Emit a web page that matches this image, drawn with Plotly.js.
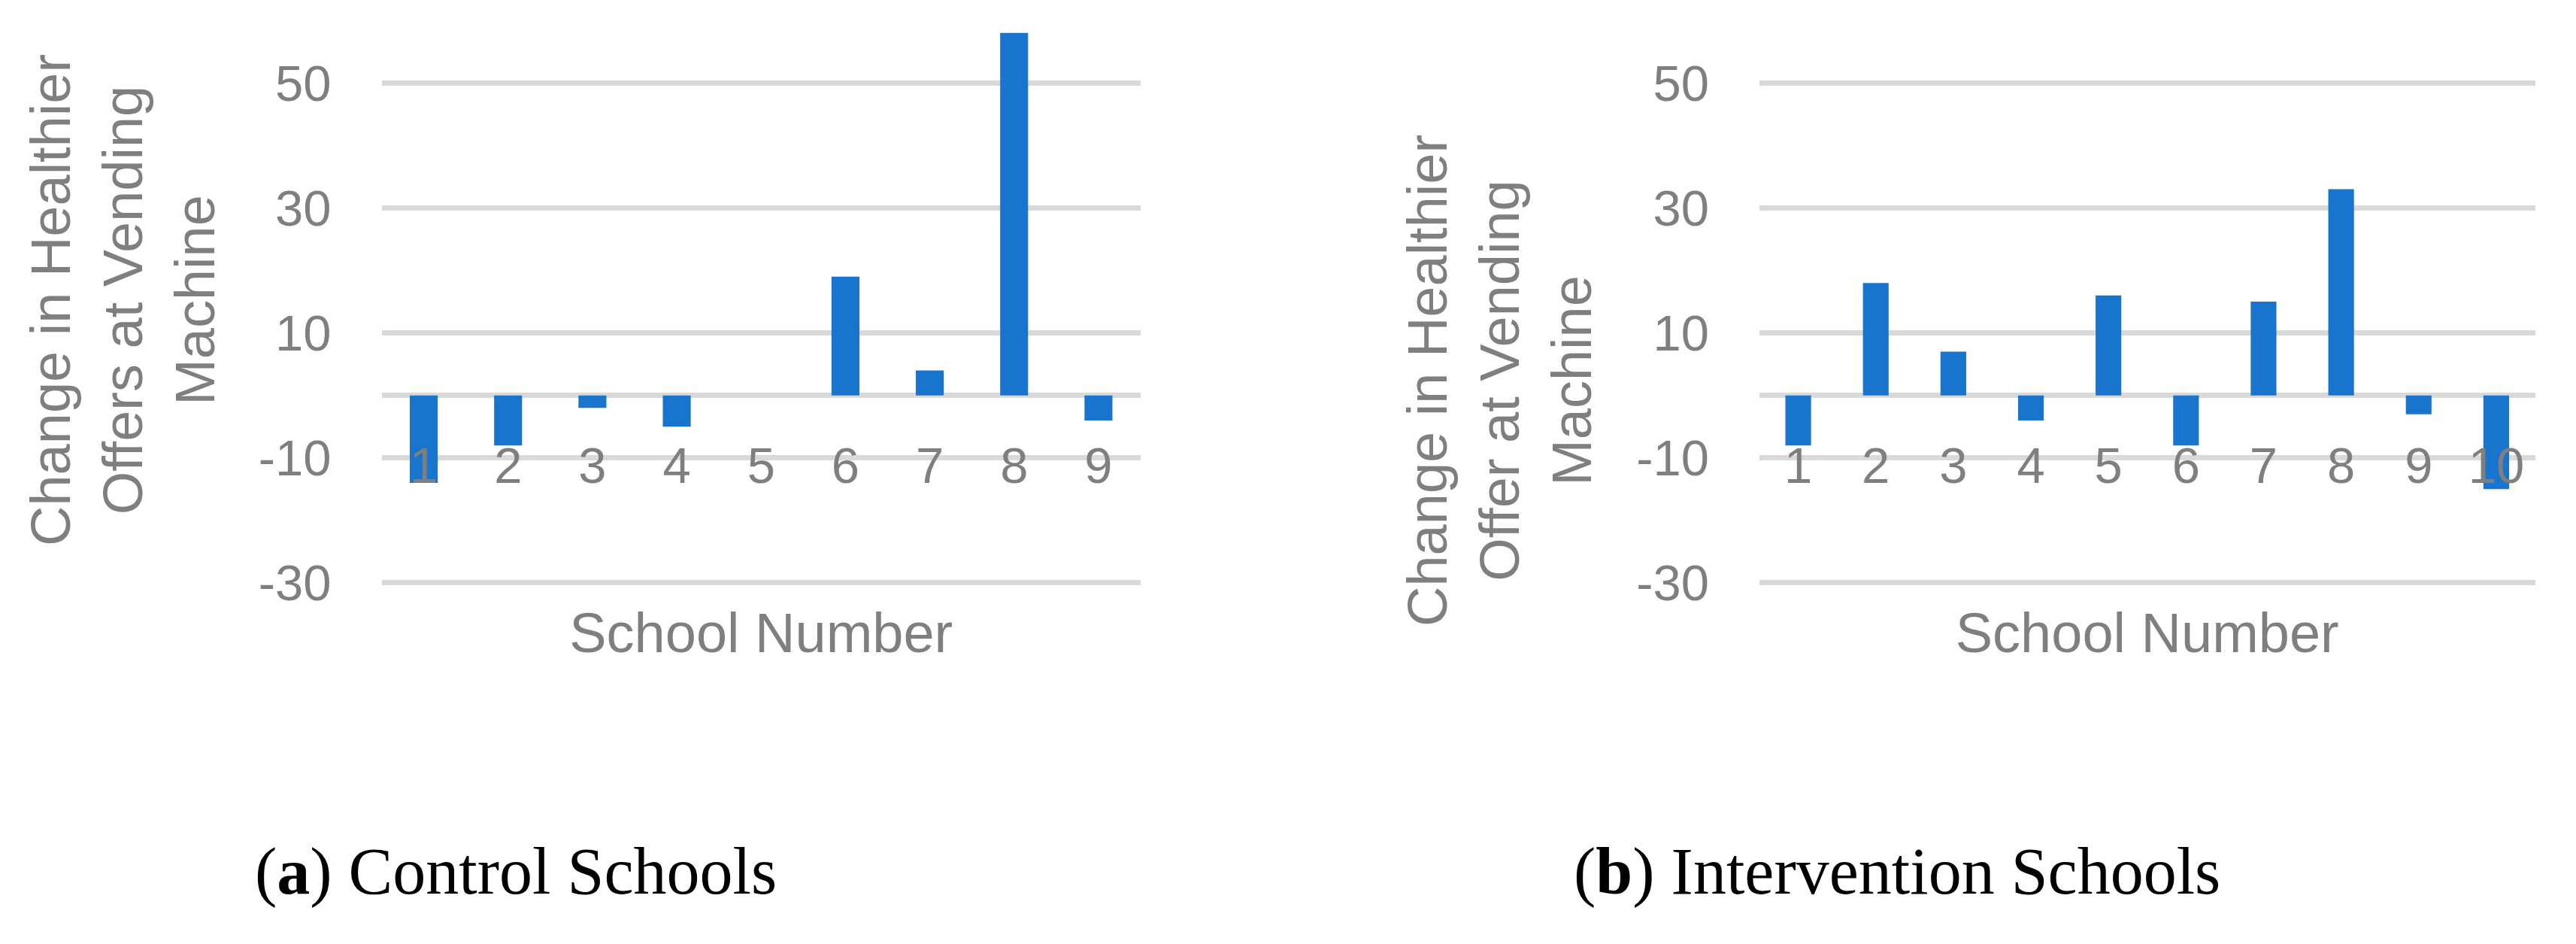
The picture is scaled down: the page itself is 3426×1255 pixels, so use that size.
<!DOCTYPE html>
<html>
<head>
<meta charset="utf-8">
<script src="https://cdn.plot.ly/plotly-3.0.1.min.js"></script>
<style>
  html, body { margin: 0; padding: 0; background: #ffffff; }
  #chart { width: 3426px; height: 1255px; }
</style>
</head>
<body>
<div id="chart"></div>
<script>
// ---- Data ----
const schoolsControl = ['1', '2', '3', '4', '5', '6', '7', '8', '9'];
const changeControl = [-14, -8, -2, -5, 0, 19, 4, 58, -4];

const schoolsIntervention = ['1', '2', '3', '4', '5', '6', '7', '8', '9', '10'];
const changeIntervention = [-8, 18, 7, -4, 16, -8, 15, 33, -3, -15];

const yTickValues = [-30, -10, 10, 30, 50];

const xTitle = 'School Number';
const yTitleControl = 'Change in Healthier<br>Offers at Vending<br>Machine';
const yTitleIntervention = 'Change in Healthier<br>Offer at Vending<br>Machine';
const captionControl = '(<b>a</b>) Control Schools';
const captionIntervention = '(<b>b</b>) Intervention Schools';

// ---- Layout helpers (pixel geometry of the figure) ----
const W = 3426, H = 1255;
const px = v => v / W;
const py = v => (H - v) / H;

const GRAY = '#7F7F7F';
const GRID = '#D9D9D9';
const BLUE = '#1874CD';
const SANS = 'Liberation Sans, Arial, sans-serif';
const SERIF = 'Liberation Serif, Times New Roman, serif';

const traces = [
  {
    type: 'bar', x: schoolsControl, y: changeControl,
    xaxis: 'x', yaxis: 'y',
    marker: { color: BLUE, line: { width: 0 } },
    hoverinfo: 'x+y', showlegend: false
  },
  {
    type: 'bar', x: schoolsIntervention, y: changeIntervention,
    xaxis: 'x2', yaxis: 'y2',
    marker: { color: BLUE, line: { width: 0 } },
    hoverinfo: 'x+y', showlegend: false
  }
];

function yAxis(anchor) {
  return {
    anchor: anchor,
    domain: [py(783.3), py(2.3)],
    range: [-31, 63],
    tickmode: 'array',
    tickvals: yTickValues,
    ticktext: yTickValues.map(String),
    showgrid: true, gridcolor: GRID, gridwidth: 7,
    zeroline: true, zerolinecolor: GRID, zerolinewidth: 7,
    showline: false, ticks: '',
    ticklabelstandoff: 66,
    tickfont: { family: SANS, size: 67, color: GRAY },
    layer: 'above traces',
    fixedrange: true
  };
}

function xAxis(domainPx) {
  return {
    anchor: 'free',
    position: py(574),
    domain: [px(domainPx[0]), px(domainPx[1])],
    type: 'category',
    showgrid: false, zeroline: false, showline: false, ticks: '',
    tickfont: { family: SANS, size: 67, color: GRAY },
    title: { text: xTitle, font: { family: SANS, size: 74, color: GRAY }, standoff: 160 },
    fixedrange: true
  };
}

const layout = {
  width: W, height: H,
  margin: { l: 0, r: 0, t: 0, b: 0, pad: 0 },
  paper_bgcolor: '#ffffff',
  plot_bgcolor: 'rgba(0,0,0,0)',
  bargap: 0.669,
  showlegend: false,
  xaxis: xAxis([507.5, 1517]),
  yaxis: yAxis('x'),
  xaxis2: xAxis([2340, 3371.5]),
  yaxis2: yAxis('x2'),
  annotations: [
    {
      text: yTitleControl, textangle: -90,
      xref: 'paper', yref: 'paper', x: px(163), y: py(399),
      xanchor: 'center', yanchor: 'middle', showarrow: false,
      font: { family: SANS, size: 74, color: GRAY }
    },
    {
      text: yTitleIntervention, textangle: -90,
      xref: 'paper', yref: 'paper', x: px(1994), y: py(506),
      xanchor: 'center', yanchor: 'middle', showarrow: false,
      font: { family: SANS, size: 74, color: GRAY }
    },
    {
      text: captionControl,
      xref: 'paper', yref: 'paper', x: px(337), y: py(1158),
      xanchor: 'left', yanchor: 'middle', showarrow: false,
      font: { family: SERIF, size: 88, color: '#000000' }
    },
    {
      text: captionIntervention,
      xref: 'paper', yref: 'paper', x: px(2091), y: py(1158),
      xanchor: 'left', yanchor: 'middle', showarrow: false,
      font: { family: SERIF, size: 88, color: '#000000' }
    }
  ]
};

Plotly.newPlot('chart', traces, layout, { staticPlot: true, displayModeBar: false });
</script>
</body>
</html>
